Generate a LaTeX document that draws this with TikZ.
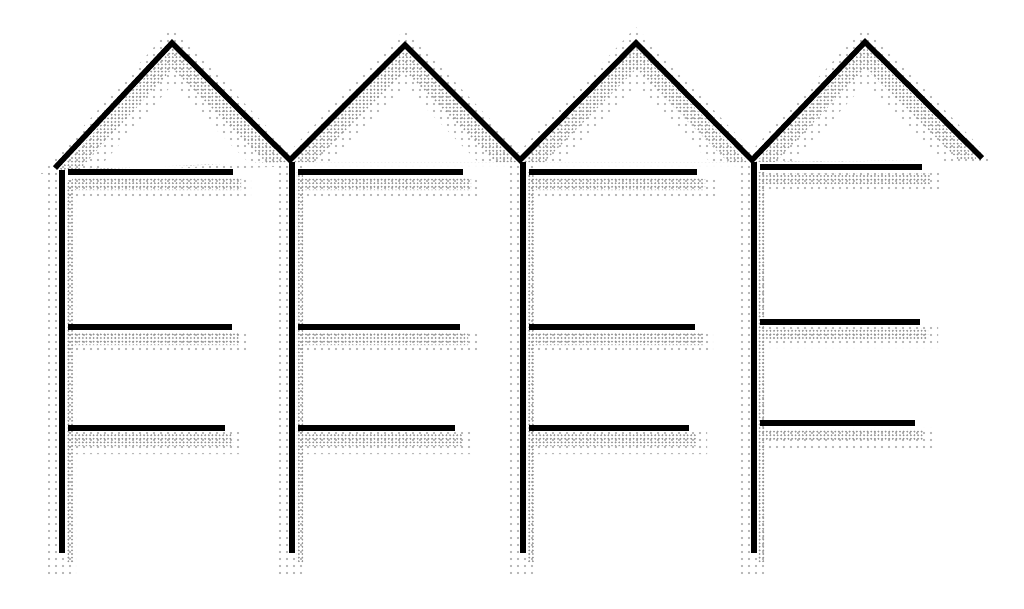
\documentclass[tikz,border=0pt]{standalone}
\usetikzlibrary{patterns.meta}

\begin{document}
\begin{tikzpicture}[x=1pt, y=-1pt,
        roof/.style={draw=black, line width=5.5pt, line join=miter},
        post/.style={draw=black, line width=5.5pt},
        beam/.style={draw=black, line width=5.5pt},
        shade/.style={pattern={Dots[distance=3.6pt, radius=1.05pt]}, pattern color=gray!85},
        halo/.style={pattern={Dots[distance=7pt, radius=1.1pt]}, pattern color=gray!75}]

      \useasboundingbox (0,0) rectangle (1024,608);

      % shadows of the roofs
      \fill[halo, even odd rule]
        (41,174) -- (172,27) -- (304,166) -- cycle (95,172) -- (172,85) -- (250,164) -- cycle
        (276,166) -- (405,29) -- (534,166) -- cycle (330,164) -- (405,87) -- (480,164) -- cycle
        (506,166) -- (636,27) -- (766,166) -- cycle (560,164) -- (636,85) -- (712,164) -- cycle
        (738,166) -- (865,26) -- (996,164) -- cycle (792,164) -- (865,84) -- (942,162) -- cycle;
      \fill[shade, even odd rule]
        (59,170) -- (172,48) -- (286,162) -- cycle (79,170) -- (172,69) -- (266,162) -- cycle
        (294,162) -- (405,50) -- (516,162) -- cycle (314,162) -- (405,71) -- (496,162) -- cycle
        (524,162) -- (636,48) -- (748,162) -- cycle (544,162) -- (636,69) -- (728,162) -- cycle
        (756,162) -- (865,47) -- (978,160) -- cycle (776,162) -- (865,68) -- (958,160) -- cycle;

      % shadows of the posts
      \fill[halo] (48,172) rectangle (76,575) (278,165) rectangle (306,575)
                  (509,165) rectangle (537,575) (740,165) rectangle (768,575);
      \fill[shade] (66,180) rectangle (73,562) (296,172) rectangle (303,562)
                   (527,172) rectangle (534,562) (758,172) rectangle (765,562);

      % shadows of the beams
      \fill[halo] (68,176) rectangle (251,198) (68,331) rectangle (250,353) (68,432) rectangle (243,454)
                  (298,176) rectangle (481,198) (298,331) rectangle (478,353) (298,432) rectangle (473,454)
                  (529,176) rectangle (715,198) (529,331) rectangle (713,353) (529,432) rectangle (707,454)
                  (760,171) rectangle (940,193) (760,326) rectangle (938,348) (760,427) rectangle (933,449);
      \fill[shade] (72,178) rectangle (241,190) (72,333) rectangle (240,345) (72,434) rectangle (233,446)
                   (302,178) rectangle (471,190) (302,333) rectangle (468,345) (302,434) rectangle (463,446)
                   (533,178) rectangle (705,190) (533,333) rectangle (703,345) (533,434) rectangle (697,446)
                   (764,173) rectangle (930,185) (764,328) rectangle (928,340) (764,429) rectangle (923,441);

      % roofs
      \draw[roof] (55,168) -- (172,43) -- (290,160) -- (405,45) -- (520,160)
                  -- (636,43) -- (752,160) -- (865,42) -- (982,158);

      % posts
      \draw[post] (62,170) -- (62,553);
      \draw[post] (292,162) -- (292,553);
      \draw[post] (523,162) -- (523,553);
      \draw[post] (754,162) -- (754,553);

      % beams
      \draw[beam] (68,172) -- (233,172);
      \draw[beam] (68,327) -- (232,327);
      \draw[beam] (68,428) -- (225,428);
      \draw[beam] (298,172) -- (463,172);
      \draw[beam] (298,327) -- (460,327);
      \draw[beam] (298,428) -- (455,428);
      \draw[beam] (529,172) -- (697,172);
      \draw[beam] (529,327) -- (695,327);
      \draw[beam] (529,428) -- (689,428);
      \draw[beam] (760,167) -- (922,167);
      \draw[beam] (760,322) -- (920,322);
      \draw[beam] (760,423) -- (915,423);
    \end{tikzpicture}
\end{document}
